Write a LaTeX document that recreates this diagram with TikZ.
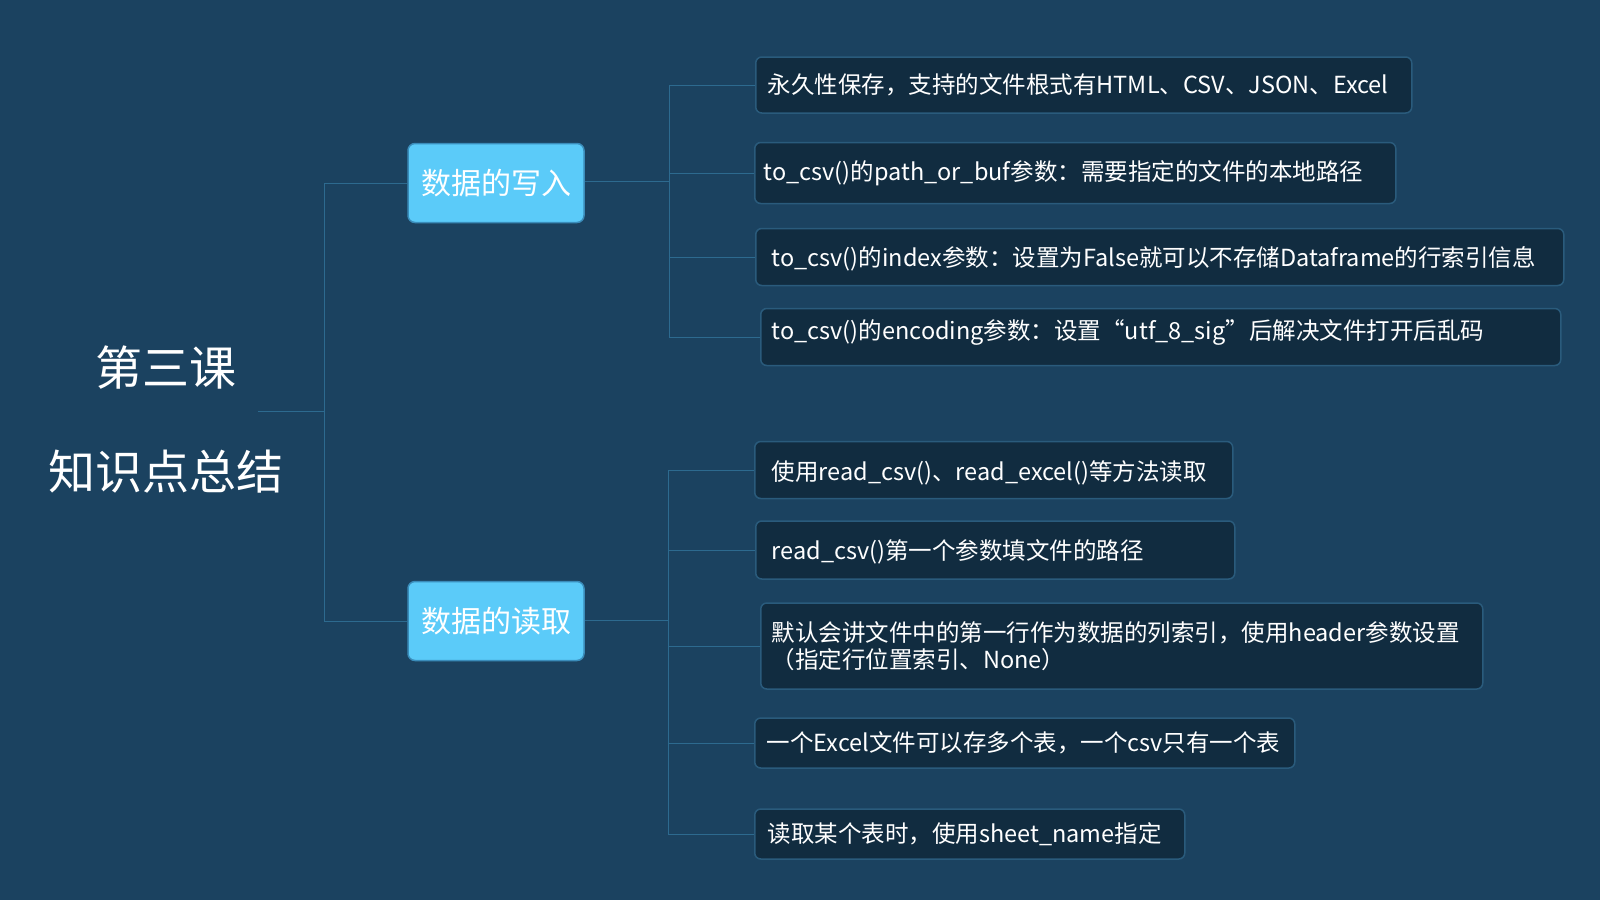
\documentclass[tikz,border=0pt]{standalone}
\usepackage{fontspec}
\newfontfamily\cjkfont{Noto Sans CJK SC}
\definecolor{bg}{HTML}{1B4260}
\definecolor{catfill}{HTML}{5BCBF9}
\definecolor{catborder}{HTML}{3A8CBA}
\definecolor{leaffill}{HTML}{112C40}
\definecolor{leafborder}{HTML}{2A5B7C}
\definecolor{linkcol}{HTML}{2D6A8F}
\tikzset{
  rootlabel/.style={text=white, font={\cjkfont\fontsize{47}{104}\selectfont}, align=center, inner sep=0pt},
  catbox/.style={draw=catborder, line width=1.5pt, fill=catfill, rounded corners=7pt, text=white,
    font={\cjkfont\fontsize{30}{36}\selectfont}, minimum width=176pt, minimum height=79pt, inner sep=0pt},
  leafbox/.style={draw=leafborder, line width=1.5pt, fill=leaffill, rounded corners=6pt, text=white,
    font={\cjkfont\fontsize{23.5}{27}\selectfont}, align=left, anchor=west, inner ysep=0pt},
  link/.style={draw=linkcol, line width=1pt},
}
\begin{document}
\begin{tikzpicture}[x=1pt,y=-1pt]
\useasboundingbox (0,0) rectangle (1600,900);
\fill[bg] (0,0) rectangle (1600,900);

% root
\node[rootlabel] (root) at (166,419) {第三课\\知识点总结};
\coordinate (rootport) at (258,411);

% categories
\node[catbox] (write) at (496,183) {数据的写入};
\node[catbox] (read) at (496,621) {数据的读取};

% write leaves
\node[leafbox, inner xsep=12pt, text width=632pt, minimum height=56pt] (w1) at (755,85) {永久性保存，支持的文件根式有HTML、CSV、JSON、Excel};
\node[leafbox, inner xsep=9pt, text width=623pt, minimum height=61pt] (w2) at (754,173) {to\_csv()的path\_or\_buf参数：需要指定的文件的本地路径};
\node[leafbox, inner xsep=16pt, text width=776pt, minimum height=57pt] (w3) at (755,257) {\raisebox{-2pt}[\height][\depth]{to\_csv()的index参数：设置为False就可以不存储Dataframe的行索引信息}};
\node[leafbox, inner xsep=11pt, text width=778pt, minimum height=57pt] (w4) at (760,337) {\raisebox{5pt}[\height][\depth]{to\_csv()的encoding参数：设置“utf\_8\_sig”后解决文件打开后乱码}};

% read leaves
\node[leafbox, inner xsep=17pt, text width=444pt, minimum height=57pt] (r1) at (754,470) {\raisebox{-3pt}[\height][\depth]{使用read\_csv()、read\_excel()等方法读取}};
\node[leafbox, inner xsep=16pt, text width=447pt, minimum height=58pt] (r2) at (755,550) {\raisebox{-2pt}[\height][\depth]{read\_csv()第一个参数填文件的路径}};
\node[leafbox, inner xsep=11pt, text width=700pt, minimum height=86pt] (r3) at (760,646) {默认会讲文件中的第一行作为数据的列索引，使用header参数设置\\（指定行位置索引、None）};
\node[leafbox, inner xsep=12pt, text width=516pt, minimum height=50pt] (r4) at (754,743) {一个Excel文件可以存多个表，一个csv只有一个表};
\node[leafbox, inner xsep=13pt, text width=404pt, minimum height=50pt] (r5) at (754,834) {读取某个表时，使用sheet\_name指定};

% connectors: root
\draw[link] (rootport) -- (324,411) |- (write.west);
\draw[link] (rootport) -- (324,411) |- (read.west);

% connectors: write
\coordinate (wbus) at (669,181);
\draw[link] (write.east |- wbus) -- (wbus);
\foreach \n in {w1,w2,w3,w4} {\draw[link] (wbus) |- (\n.west);}

% connectors: read
\coordinate (rbus) at (668,620);
\draw[link] (read.east |- rbus) -- (rbus);
\foreach \n in {r1,r2,r3,r4,r5} {\draw[link] (rbus) |- (\n.west);}
\end{tikzpicture}
\end{document}
